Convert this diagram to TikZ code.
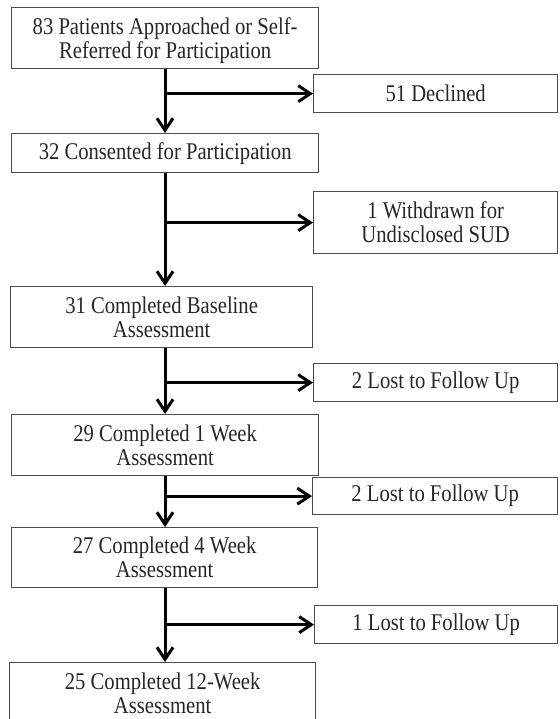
\documentclass[tikz,border=0pt]{standalone}
\usepackage{fontspec}
\setmainfont{Liberation Serif}[FakeStretch=0.86]
\usetikzlibrary{arrows.meta}
\definecolor{boxline}{gray}{0.3}
\definecolor{boxtext}{gray}{0.15}
\tikzset{
  flowbox/.style={draw=boxline, line width=1.3pt, text=boxtext, align=center,
    anchor=north west, inner sep=0pt, font=\fontsize{24}{24}\selectfont},
  flowarrow/.style={draw=black, line width=3pt, -{Straight Barb[length=12pt,width=16pt]}}
}

\begin{document}
\begin{tikzpicture}[x=1pt,y=-1pt]
 \useasboundingbox (0,0) rectangle (559,719);
 \clip (0,0) rectangle (559,719);
 \node[flowbox, minimum width=307pt, minimum height=61pt, text depth=-8pt] (patients) at (11,7) {83 Patients Approached or Self-\\Referred for Participation};
 \node[flowbox, minimum width=244pt, minimum height=38pt] (declined) at (313,74) {51 Declined};
 \node[flowbox, minimum width=307pt, minimum height=39pt] (consented) at (11,133) {32 Consented for Participation};
 \node[flowbox, minimum width=244pt, minimum height=62pt] (withdrawn) at (313,191) {1 Withdrawn for\\Undisclosed SUD};
 \node[flowbox, minimum width=302pt, minimum height=61pt] (baseline) at (10,286) {31 Completed Baseline\\Assessment};
 \node[flowbox, minimum width=244pt, minimum height=38pt] (lostA) at (313,363) {2 Lost to Follow Up};
 \node[flowbox, minimum width=307pt, minimum height=61pt] (weekA) at (11,414) {29 Completed 1 Week\\Assessment};
 \node[flowbox, minimum width=245pt, minimum height=37pt] (lostB) at (312,477) {2 Lost to Follow Up};
 \node[flowbox, minimum width=306pt, minimum height=60pt] (weekB) at (11,527) {27 Completed 4 Week\\Assessment};
 \node[flowbox, minimum width=243pt, minimum height=38pt] (lostC) at (314,605) {1 Lost to Follow Up};
 \node[flowbox, minimum width=306pt, minimum height=62pt] (weekC) at (9,662) {25 Completed 12-Week\\Assessment};
 \coordinate (trunk) at (165,0);
 \coordinate (splitA) at (trunk |- declined.west);
 \coordinate (splitB) at (trunk |- withdrawn.west);
 \coordinate (splitC) at (trunk |- lostA.west);
 \coordinate (splitD) at (trunk |- lostB.west);
 \coordinate (splitE) at (trunk |- lostC.west);
 \draw[flowarrow] (trunk |- patients.south) -- (trunk |- consented.north);
 \draw[flowarrow] (trunk |- consented.south) -- (trunk |- baseline.north);
 \draw[flowarrow] (trunk |- baseline.south) -- (trunk |- weekA.north);
 \draw[flowarrow] (trunk |- weekA.south) -- (trunk |- weekB.north);
 \draw[flowarrow] (trunk |- weekB.south) -- (trunk |- weekC.north);
 \draw[flowarrow] (splitA) -- (declined.west);
 \draw[flowarrow] (splitB) -- (withdrawn.west);
 \draw[flowarrow] (splitC) -- (lostA.west);
 \draw[flowarrow] (splitD) -- (lostB.west);
 \draw[flowarrow] (splitE) -- (lostC.west);
\end{tikzpicture}
\end{document}
